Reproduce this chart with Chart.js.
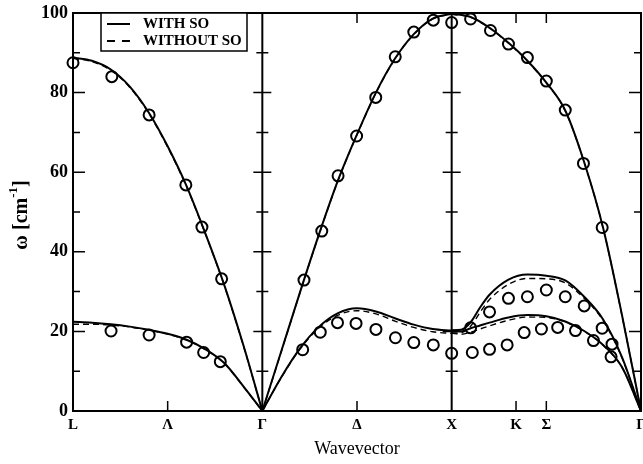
<!DOCTYPE html>
<html>
<head>
<meta charset="utf-8">
<script src="https://cdn.jsdelivr.net/npm/chart.js@4.4.0/dist/chart.umd.min.js"></script>
<style>
  html, body { margin: 0; padding: 0; background: #fff; }
</style>
</head>
<body>
<canvas id="chart" width="643" height="464"></canvas>
<script>
// symmetry points along the path
const kPos = [0, 0.5, 1, 1.5, 2, 2.34, 2.5, 3];
const kLabels = ['L', 'Λ', 'Γ', 'Δ', 'X', 'K', 'Σ', 'Γ'];
const symLines = [1, 2];

// L -> Γ
const xLG = [0, 0.1, 0.2, 0.3, 0.4, 0.5, 0.6, 0.7, 0.8, 0.9, 1.0];
const laLG_so   = [88.8, 88.0, 85.8, 81.5, 75.0, 66.5, 56.5, 44.5, 31.5, 16.5, 0];
const laLG_noso = [88.6, 87.8, 85.6, 81.3, 74.8, 66.3, 56.3, 44.4, 31.4, 16.4, 0];
const taLG_so   = [22.4, 22.2, 21.8, 21.2, 20.4, 19.4, 17.9, 15.5, 12.0, 6.2, 0];
const taLG_noso = [21.8, 21.8, 21.6, 21.1, 20.3, 19.3, 17.8, 15.4, 11.9, 6.1, 0];

// Γ -> X
const xGX = [1.0, 1.1, 1.2, 1.3, 1.4, 1.5, 1.6, 1.7, 1.8, 1.9, 2.0];
const laGX_so   = [0, 15.0, 30.0, 44.5, 58.0, 69.5, 80.0, 88.5, 94.7, 98.6, 99.8];
const laGX_noso = [0, 14.9, 29.9, 44.4, 57.9, 69.4, 79.9, 88.4, 94.6, 98.5, 99.7];
const taGX_so   = [0, 8.5, 15.8, 21.2, 24.6, 25.8, 25.0, 23.3, 21.7, 20.6, 20.2];
const taGX_noso = [0, 8.4, 15.6, 20.9, 24.1, 25.2, 24.4, 22.6, 21.0, 19.9, 19.5];

// X -> Γ
const xXG1 = [2.0, 2.1, 2.2, 2.3, 2.4, 2.5, 2.6, 2.7, 2.8, 2.9, 3.0];
const laXG_so   = [99.8, 99.0, 96.3, 92.5, 88.0, 82.5, 75.5, 62.5, 46.0, 24.0, 0];
const laXG_noso = [99.7, 98.9, 96.2, 92.4, 87.9, 82.4, 75.4, 62.4, 45.9, 23.9, 0];
const xXG2 = [2.0, 2.05, 2.1, 2.15, 2.2, 2.3, 2.4, 2.5, 2.6, 2.7, 2.8, 2.9, 3.0];
const upXG_so   = [20.3, 20.4, 22.3, 26.0, 29.2, 33.0, 34.3, 34.0, 32.8, 28.7, 23.0, 13.5, 0];
const upXG_noso = [19.6, 19.7, 21.3, 24.8, 28.0, 31.8, 33.3, 33.2, 32.2, 28.3, 22.7, 13.3, 0];
const loXG_so   = [20.3, 20.0, 20.8, 21.5, 22.2, 23.5, 24.1, 23.8, 22.5, 20.1, 16.6, 11.0, 0];
const loXG_noso = [19.6, 19.3, 19.8, 20.6, 21.4, 22.8, 23.6, 23.5, 22.4, 20.0, 16.5, 10.9, 0];

// measured points (circles)
const expX = [0.0, 0.205, 0.402, 0.596, 0.681, 0.785,
  0.201, 0.402, 0.60, 0.69, 0.778,
  1.22, 1.314, 1.40, 1.498, 1.599, 1.702, 1.80, 1.903, 2.0,
  1.213, 1.306, 1.397, 1.495, 1.60, 1.703, 1.80, 1.903, 2.0,
  2.10, 2.205, 2.30, 2.40, 2.50, 2.60, 2.696, 2.795,
  2.10, 2.20, 2.30, 2.40, 2.50, 2.60, 2.70, 2.795, 2.847,
  2.109, 2.20, 2.293, 2.383, 2.474, 2.56, 2.654, 2.749, 2.842];
const expY = [87.5, 84.0, 74.4, 56.8, 46.2, 33.2,
  20.1, 19.1, 17.3, 14.7, 12.4,
  32.9, 45.2, 59.1, 69.1, 78.8, 89.0, 95.2, 98.2, 97.6,
  15.4, 19.8, 22.2, 22.0, 20.5, 18.4, 17.2, 16.6, 14.5,
  98.5, 95.6, 92.2, 88.8, 82.9, 75.6, 62.2, 46.1,
  20.9, 24.9, 28.3, 28.7, 30.4, 28.7, 26.4, 20.8, 16.8,
  14.7, 15.5, 16.6, 19.7, 20.6, 21.0, 20.2, 17.7, 13.6];

const serif = "'Liberation Serif', 'Times New Roman', serif";

function pts(xs, ys) {
  return xs.map((x, i) => ({ x: x, y: ys[i] }));
}

function branch(xs, ys, dashed) {
  return {
    type: 'line',
    data: pts(xs, ys),
    borderColor: '#000',
    borderWidth: dashed ? 1.4 : 2,
    borderDash: dashed ? [6, 4] : [],
    pointRadius: 0,
    fill: false,
    cubicInterpolationMode: 'monotone',
    clip: false
  };
}

const datasets = [
  branch(xLG, laLG_so), branch(xLG, taLG_so),
  branch(xGX, laGX_so), branch(xGX, taGX_so),
  branch(xXG1, laXG_so), branch(xXG2, upXG_so), branch(xXG2, loXG_so),
  branch(xLG, laLG_noso, true), branch(xLG, taLG_noso, true),
  branch(xGX, laGX_noso, true), branch(xGX, taGX_noso, true),
  branch(xXG1, laXG_noso, true), branch(xXG2, upXG_noso, true), branch(xXG2, loXG_noso, true),
  {
    type: 'scatter',
    data: pts(expX, expY),
    showLine: false,
    pointRadius: 5.5,
    pointBorderWidth: 2,
    pointBorderColor: '#000',
    pointBackgroundColor: 'rgba(0,0,0,0)',
    clip: false
  }
];

// frame, symmetry lines, ticks, legend and y title
const decorPlugin = {
  id: 'decor',
  afterDraw(chart) {
    const { ctx, chartArea: a, scales: { x, y } } = chart;
    ctx.save();
    ctx.strokeStyle = '#000';
    ctx.lineWidth = 2;
    ctx.strokeRect(a.left, a.top, a.right - a.left, a.bottom - a.top);

    ctx.beginPath();
    symLines.forEach(v => {
      const px = x.getPixelForValue(v);
      ctx.moveTo(px, a.top); ctx.lineTo(px, a.bottom);
    });
    ctx.stroke();

    ctx.lineWidth = 1.5;
    ctx.beginPath();
    for (let v = 10; v < 100; v += 10) {
      const py = y.getPixelForValue(v);
      const major = v % 20 === 0;
      const len = major ? 12 : 7;
      ctx.moveTo(a.left, py); ctx.lineTo(a.left + len, py);
      ctx.moveTo(a.right, py); ctx.lineTo(a.right - len, py);
      symLines.forEach(s => {
        const px = x.getPixelForValue(s);
        const l = major ? 9 : 6;
        ctx.moveTo(px - l, py); ctx.lineTo(px + l, py);
      });
    }
    kPos.forEach(v => {
      if (v === 0 || v === 3 || symLines.includes(v)) return;
      const px = x.getPixelForValue(v);
      ctx.moveTo(px, a.bottom); ctx.lineTo(px, a.bottom - 10);
      ctx.moveTo(px, a.top); ctx.lineTo(px, a.top + 10);
    });
    ctx.stroke();

    // legend
    const lx = a.left + 28, ly = a.top;
    ctx.fillStyle = '#fff';
    ctx.fillRect(lx, ly, 146, 38);
    ctx.lineWidth = 1.5;
    ctx.strokeRect(lx, ly, 146, 38);
    ctx.lineWidth = 2;
    ctx.beginPath();
    ctx.moveTo(lx + 6, ly + 11); ctx.lineTo(lx + 29, ly + 11);
    ctx.stroke();
    ctx.setLineDash([8, 7]);
    ctx.beginPath();
    ctx.moveTo(lx + 6, ly + 28); ctx.lineTo(lx + 30, ly + 28);
    ctx.stroke();
    ctx.setLineDash([]);
    ctx.fillStyle = '#000';
    ctx.font = 'bold 15px ' + serif;
    ctx.textBaseline = 'middle';
    ctx.textAlign = 'left';
    ctx.fillText('WITH SO', lx + 42, ly + 11);
    ctx.fillText('WITHOUT SO', lx + 42, ly + 28);

    // y axis title with superscript
    ctx.translate(22, 215);
    ctx.rotate(-Math.PI / 2);
    const big = 'bold 20px ' + serif, small = 'bold 13px ' + serif;
    ctx.font = big;
    const w1 = ctx.measureText('ω [cm').width, w3 = ctx.measureText(']').width;
    ctx.font = small;
    const w2 = ctx.measureText('-1').width;
    let cx = -(w1 + w2 + w3) / 2;
    ctx.font = big;
    ctx.fillText('ω [cm', cx, 0);
    ctx.font = small;
    ctx.fillText('-1', cx + w1, -8);
    ctx.font = big;
    ctx.fillText(']', cx + w1 + w2, 0);
    ctx.restore();
  }
};

new Chart(document.getElementById('chart'), {
  data: { datasets: datasets },
  plugins: [decorPlugin],
  options: {
    responsive: false,
    animation: false,
    layout: { autoPadding: false, padding: { top: 13, right: 2, left: 0, bottom: 0 } },
    plugins: { legend: { display: false }, tooltip: { enabled: false } },
    scales: {
      x: {
        type: 'linear',
        min: 0,
        max: 3,
        grid: { display: false, drawTicks: false },
        border: { display: false },
        afterBuildTicks: s => { s.ticks = kPos.map(v => ({ value: v })); },
        afterFit: s => { s.height = 53; s.paddingLeft = 0; s.paddingRight = 0; },
        ticks: {
          autoSkip: false,
          maxRotation: 0,
          padding: 5,
          color: '#000',
          font: { family: serif, size: 15, weight: 'bold' },
          callback: (v, i) => kLabels[i]
        },
        title: {
          display: true,
          text: 'Wavevector',
          color: '#000',
          font: { family: serif, size: 18 },
          padding: { top: 0, bottom: 4 }
        }
      },
      y: {
        min: 0,
        max: 100,
        grid: { display: false, drawTicks: false },
        border: { display: false },
        afterFit: s => { s.width = 73; s.paddingTop = 0; s.paddingBottom = 0; },
        ticks: {
          stepSize: 20,
          padding: 5,
          color: '#000',
          font: { family: serif, size: 18, weight: 'bold' }
        }
      }
    }
  }
});
</script>
</body>
</html>
